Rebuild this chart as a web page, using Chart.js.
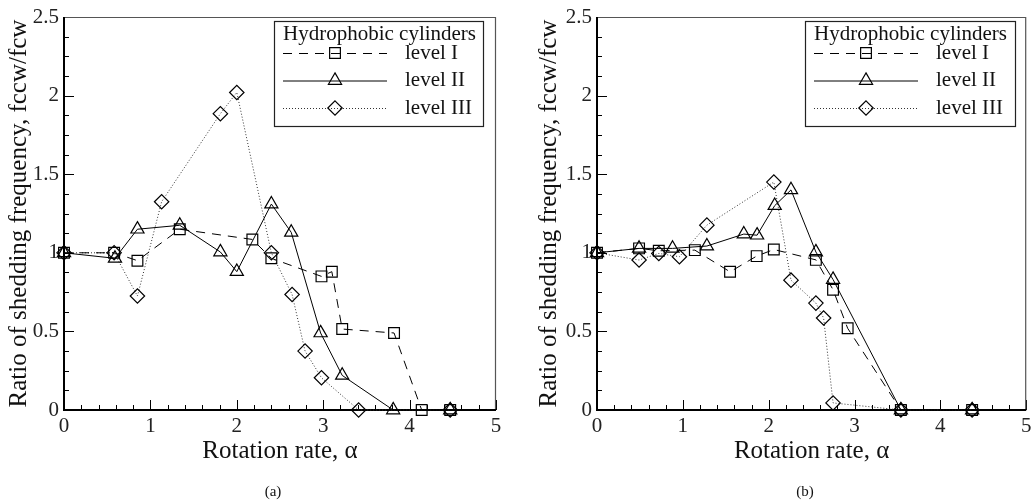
<!DOCTYPE html>
<html>
<head>
<meta charset="utf-8">
<script src="https://cdn.jsdelivr.net/npm/chart.js@4/dist/chart.umd.min.js"></script>
<style>
html,body{margin:0;padding:0;background:#fff;}
#wrap{position:relative;width:1035px;height:503px;overflow:hidden;}
canvas{position:absolute;top:0;}
</style>
</head>
<body>
<div id="wrap">
<canvas id="ca" width="517" height="503" style="left:0px"></canvas>
<canvas id="cb" width="518" height="503" style="left:517px"></canvas>
</div>
<script>
// ---------- data ----------
const xTickValues = [0, 1, 2, 3, 4, 5];
const xTickLabels = ['0', '1', '2', '3', '4', '5'];
const yTickValues = [0, 0.5, 1, 1.5, 2, 2.5];
const yTickLabels = ['0', '0.5', '1', '1.5', '2', '2.5'];
const seriesNames = ['level I', 'level II', 'level III'];
const legendTitle = 'Hydrophobic cylinders';
const xTitle = 'Rotation rate, \u03b1';
const yTitle = 'Ratio of shedding frequency, fccw/fcw';

// panel (a)
const alphaA_I   = [0, 0.58, 0.85, 1.34, 2.18, 2.40, 2.98, 3.10, 3.22, 3.82, 4.14, 4.47];
const ratioA_I   = [1.0, 1.0, 0.95, 1.15, 1.085, 0.965, 0.85, 0.88, 0.515, 0.49, 0, 0];
const alphaA_II  = [0, 0.59, 0.85, 1.34, 1.81, 2.0, 2.40, 2.63, 2.97, 3.22, 3.81, 4.47];
const ratioA_II  = [1.0, 0.965, 1.15, 1.175, 1.005, 0.88, 1.31, 1.13, 0.49, 0.22, 0, 0];
const alphaA_III = [0, 0.58, 0.85, 1.13, 1.81, 2.0, 2.40, 2.64, 2.79, 2.98, 3.41, 4.47];
const ratioA_III = [1.0, 1.0, 0.725, 1.325, 1.885, 2.02, 1.0, 0.735, 0.375, 0.205, 0, 0];

// panel (b)
const alphaB_I   = [0, 0.49, 0.72, 1.14, 1.55, 1.86, 2.06, 2.55, 2.75, 2.92, 3.54, 4.37];
const ratioB_I   = [1.0, 1.028, 1.013, 1.017, 0.879, 0.979, 1.021, 0.955, 0.765, 0.52, 0, 0];
const alphaB_II  = [0, 0.49, 0.88, 1.28, 1.71, 1.865, 2.07, 2.26, 2.55, 2.75, 3.54, 4.37];
const ratioB_II  = [1.0, 1.028, 1.028, 1.043, 1.119, 1.112, 1.30, 1.40, 1.005, 0.83, 0, 0];
const alphaB_III = [0, 0.49, 0.72, 0.96, 1.28, 2.06, 2.26, 2.55, 2.64, 2.75, 3.54, 4.37];
const ratioB_III = [1.0, 0.954, 0.996, 0.975, 1.176, 1.45, 0.826, 0.68, 0.585, 0.045, 0, 0];

// ---------- styles ----------
const SERIF = '"Liberation Serif", "Times New Roman", serif';
const styles = [
  {pointStyle: 'rect', radius: 7.6, dash: [9, 7], color: '#000', width: 1},
  {pointStyle: 'triangle', radius: 7.6, dash: [], color: '#000', width: 1},
  {pointStyle: 'rectRot', radius: 7.2, dash: [1, 2], color: '#333', width: 1}
];

function pts(xs, ys) { return xs.map((v, i) => ({x: v, y: ys[i]})); }

function makeDatasets(series) {
  return series.map((s, i) => ({
    label: seriesNames[i],
    data: pts(s[0], s[1]),
    showLine: true,
    tension: 0,
    borderColor: styles[i].color,
    borderWidth: styles[i].width,
    borderDash: styles[i].dash,
    pointStyle: styles[i].pointStyle,
    pointRadius: styles[i].radius,
    pointHoverRadius: styles[i].radius,
    pointBorderColor: '#000',
    pointBorderWidth: 1.2,
    pointBackgroundColor: 'rgba(0,0,0,0)',
    clip: false
  }));
}

function drawMarker(ctx, style, x, y, r) {
  ctx.beginPath();
  if (style === 'rect') {
    const s = Math.SQRT1_2 * r;
    ctx.rect(x - s, y - s, 2 * s, 2 * s);
  } else if (style === 'triangle') {
    const a = 2 * Math.PI / 3;
    ctx.moveTo(x, y - r);
    ctx.lineTo(x + Math.sin(a) * r, y - Math.cos(a) * r);
    ctx.lineTo(x + Math.sin(2 * a) * r, y - Math.cos(2 * a) * r);
    ctx.closePath();
  } else {
    ctx.moveTo(x, y - r); ctx.lineTo(x + r, y); ctx.lineTo(x, y + r); ctx.lineTo(x - r, y); ctx.closePath();
  }
  ctx.stroke();
}

const paperPlugin = {
  id: 'paper',
  beforeDatasetsDraw(chart) {
    const {ctx, chartArea: a, scales: {x, y}} = chart;
    ctx.save();
    ctx.strokeStyle = '#000';
    ctx.lineWidth = 1;
    // inward ticks
    for (let i = 0; i <= 25; i++) {
      const px = Math.round(x.getPixelForValue(i * 0.2)) + 0.5;
      const len = (i % 5 === 0) ? 10 : 5;
      ctx.beginPath(); ctx.moveTo(px, a.bottom); ctx.lineTo(px, a.bottom - len); ctx.stroke();
    }
    for (let i = 0; i <= 20; i++) {
      const py = Math.round(y.getPixelForValue(i * 0.125)) + 0.5;
      const len = (i % 4 === 0) ? 10 : 5;
      ctx.beginPath(); ctx.moveTo(a.left, py); ctx.lineTo(a.left + len, py); ctx.stroke();
    }
    // frame
    ctx.strokeStyle = '#555';
    ctx.lineWidth = 1.2;
    ctx.beginPath();
    ctx.moveTo(a.left, a.top + 0.5); ctx.lineTo(a.right - 0.5, a.top + 0.5); ctx.lineTo(a.right - 0.5, a.bottom);
    ctx.stroke();
    ctx.strokeStyle = '#000';
    ctx.lineWidth = 2;
    ctx.beginPath();
    ctx.moveTo(a.left, a.top); ctx.lineTo(a.left, a.bottom); ctx.lineTo(a.right, a.bottom);
    ctx.stroke();
    ctx.restore();
  },
  afterDraw(chart, args, o) {
    const {ctx, chartArea: a} = chart;
    ctx.save();
    // legend box
    const L = o.legend;
    ctx.fillStyle = '#fff';
    ctx.fillRect(L.x, L.y, L.w, L.h);
    ctx.strokeStyle = '#222';
    ctx.lineWidth = 1.2;
    ctx.strokeRect(L.x + 0.5, L.y + 0.5, L.w, L.h);
    ctx.fillStyle = '#111';
    ctx.font = '21px ' + SERIF;
    ctx.textBaseline = 'middle';
    ctx.textAlign = 'left';
    ctx.fillText(legendTitle, L.x + 9, L.y + 13);
    chart.data.datasets.forEach((ds, i) => {
      const yy = L.y + 32 + i * 27.5;
      ctx.save();
      ctx.strokeStyle = ds.borderColor;
      ctx.lineWidth = ds.borderWidth;
      ctx.setLineDash(ds.borderDash);
      ctx.beginPath(); ctx.moveTo(L.x + 9, yy + 0.5); ctx.lineTo(L.x + 113, yy + 0.5); ctx.stroke();
      ctx.setLineDash([]);
      ctx.strokeStyle = '#000';
      ctx.lineWidth = 1.2;
      drawMarker(ctx, ds.pointStyle, L.x + 61, yy, ds.pointRadius);
      ctx.restore();
      ctx.fillStyle = '#111';
      ctx.fillText(ds.label, L.x + 131, yy);
    });
    // axis titles
    ctx.font = '25px ' + SERIF;
    ctx.textAlign = 'center';
    ctx.fillText(xTitle, (a.left + a.right) / 2, o.xTitleY);
    ctx.save();
    ctx.translate(o.yTitleX, (a.top + a.bottom) / 2);
    ctx.rotate(-Math.PI / 2);
    ctx.fillText(yTitle, 0, 0);
    ctx.restore();
    // caption
    ctx.font = '15px ' + SERIF;
    ctx.fillText(o.caption, o.captionX, o.captionY);
    ctx.restore();
  }
};

function makeChart(id, series, cfg) {
  return new Chart(document.getElementById(id), {
    type: 'scatter',
    data: {datasets: makeDatasets(series)},
    options: {
      responsive: false,
      animation: false,
      events: [],
      layout: {padding: {left: 0, top: 17, right: cfg.padRight, bottom: 0}},
      plugins: {
        legend: {display: false},
        tooltip: {enabled: false},
        paper: cfg.paper
      },
      scales: {
        x: {
          type: 'linear', min: 0, max: 5,
          grid: {display: false, drawTicks: false, tickLength: 0},
          border: {display: false},
          afterBuildTicks: s => { s.ticks = xTickValues.map(v => ({value: v})); },
          afterFit: s => { s.height = 93; s.paddingLeft = 0; s.paddingRight = 0; },
          ticks: {
            callback: (v) => xTickLabels[xTickValues.indexOf(v)],
            font: {family: SERIF, size: 21}, color: '#222', padding: 4, maxRotation: 0
          }
        },
        y: {
          type: 'linear', min: 0, max: 2.5,
          grid: {display: false, drawTicks: false, tickLength: 0},
          border: {display: false},
          afterBuildTicks: s => { s.ticks = yTickValues.map(v => ({value: v})); },
          afterFit: s => { s.width = cfg.yWidth; s.paddingTop = 0; s.paddingBottom = 0; },
          ticks: {
            callback: (v) => yTickLabels[yTickValues.indexOf(v)],
            font: {family: SERIF, size: 21}, color: '#222', padding: 5
          }
        }
      }
    },
    plugins: [paperPlugin]
  });
}

makeChart('ca', [[alphaA_I, ratioA_I], [alphaA_II, ratioA_II], [alphaA_III, ratioA_III]], {
  padRight: 21, yWidth: 64,
  paper: {legend: {x: 274, y: 21, w: 209, h: 105}, xTitleY: 451, yTitleX: 19, caption: '(a)', captionX: 273, captionY: 492}
});
makeChart('cb', [[alphaB_I, ratioB_I], [alphaB_II, ratioB_II], [alphaB_III, ratioB_III]], {
  padRight: 8, yWidth: 80,
  paper: {legend: {x: 288, y: 21, w: 210, h: 105}, xTitleY: 451, yTitleX: 32, caption: '(b)', captionX: 288, captionY: 492}
});
</script>
</body>
</html>
